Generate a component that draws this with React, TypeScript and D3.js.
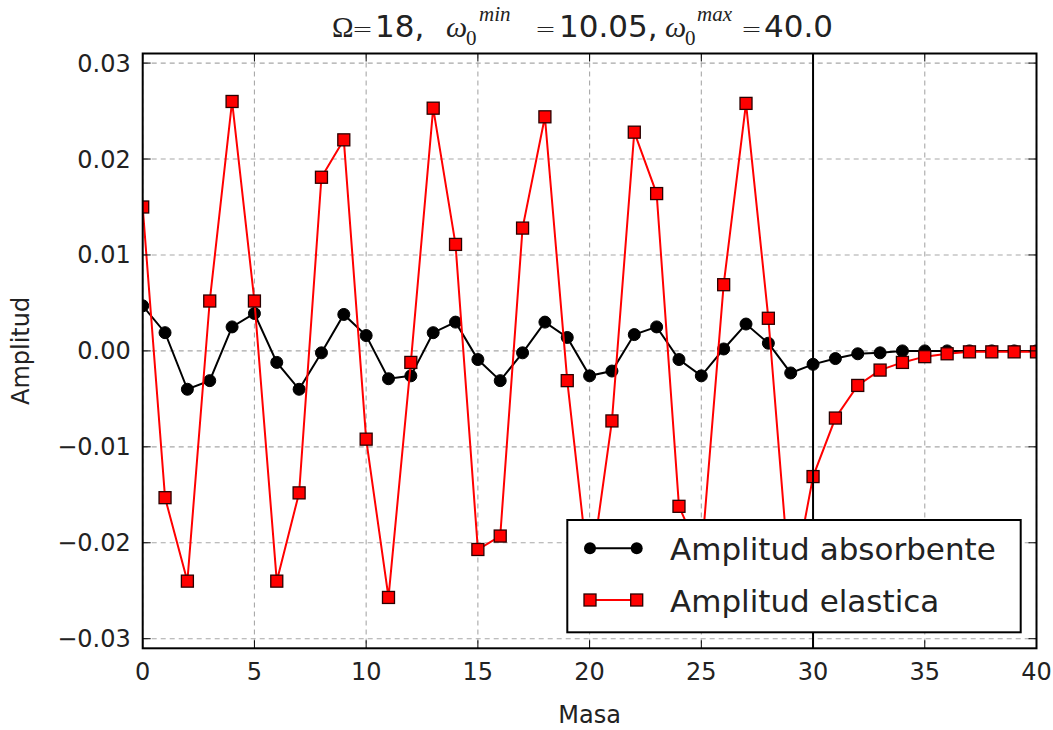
import React from 'react';
import * as d3 from 'd3';

const masas = [0, 1, 2, 3, 4, 5, 6, 7, 8, 9, 10, 11, 12, 13, 14, 15, 16, 17, 18, 19, 20,
  21, 22, 23, 24, 25, 26, 27, 28, 29, 30, 31, 32, 33, 34, 35, 36, 37, 38, 39, 40];

const amplitudAbsorbente = [0.0047, 0.0019, -0.0040, -0.0031, 0.0025, 0.0039, -0.0012, -0.0040,
  -0.0002, 0.0038, 0.0016, -0.0029, -0.0026, 0.0019, 0.0030, -0.0009, -0.0031, -0.0002, 0.0030,
  0.0014, -0.0026, -0.0021, 0.0017, 0.0025, -0.0009, -0.0026, 0.0002, 0.0028, 0.0008, -0.0023,
  -0.0014, -0.0008, -0.0003, -0.0002, 0.0000, 0.0000, 0.0000, 0.0000, 0.0000, 0.0000, 0.0000];

const amplitudElastica = [0.0150, -0.0153, -0.0240, 0.0052, 0.0260, 0.0052, -0.0240, -0.0148,
  0.0181, 0.0220, -0.0092, -0.0257, -0.0012, 0.0253, 0.0111, -0.0207, -0.0193, 0.0128, 0.0244,
  -0.0031, -0.0240, -0.0073, 0.0228, 0.0164, -0.0162, -0.0215, 0.0069, 0.0258, 0.0034, -0.0255,
  -0.0131, -0.0070, -0.0036, -0.0020, -0.0012, -0.0006, -0.0003, -0.0001, -0.0001, -0.0001, -0.0001];

const xTicks = [0, 5, 10, 15, 20, 25, 30, 35, 40];
const xTickLabels = ['0', '5', '10', '15', '20', '25', '30', '35', '40'];
const yTicks = [-0.03, -0.02, -0.01, 0, 0.01, 0.02, 0.03];
const yTickLabels = ['\u22120.03', '\u22120.02', '\u22120.01', '0.00', '0.01', '0.02', '0.03'];
const masaLimite = 30;
const legendLabels = ['Amplitud absorbente', 'Amplitud elastica'];

export default function App() {
  const W = 1053, H = 730;
  const L = 142.7, R = 1036.5, T = 53.5, B = 648.3;
  const x = d3.scaleLinear().domain([0, 40]).range([L, R]);
  const y = d3.scaleLinear().domain([-0.031, 0.031]).range([B, T]);

  const line = d3.line<number>().x((_, i) => x(masas[i])).y((d) => y(d));
  const sans = '"DejaVu Sans", sans-serif';
  const serif = '"Liberation Serif", "DejaVu Serif", serif';
  const tick = 8;
  const ms = 12;
  const tb = 37;

  return (
    <svg width={W} height={H} style={{ position: 'absolute', left: 0, top: 0, background: '#fff' }}>
      <defs>
        <clipPath id="plotclip">
          <rect x={L} y={T} width={R - L} height={B - T} />
        </clipPath>
      </defs>
      <rect x={0} y={0} width={W} height={H} fill="#fff" />
      {/* grid */}
      <g stroke="#a8a8a8" strokeWidth={1.1} strokeDasharray="5,4">
        {xTicks.map((t) => (
          <line key={'gx' + t} x1={x(t)} x2={x(t)} y1={T} y2={B} />
        ))}
        {yTicks.map((t) => (
          <line key={'gy' + t} x1={L} x2={R} y1={y(t)} y2={y(t)} />
        ))}
      </g>
      {/* data */}
      <g clipPath="url(#plotclip)">
        <path d={line(amplitudAbsorbente) || ''} fill="none" stroke="#000" strokeWidth={2} />
        {amplitudAbsorbente.map((v, i) => (
          <circle key={'c' + i} cx={x(masas[i])} cy={y(v)} r={ms / 2} fill="#000" stroke="#000" strokeWidth={1} />
        ))}
        <path d={line(amplitudElastica) || ''} fill="none" stroke="#ff0000" strokeWidth={2} />
        {amplitudElastica.map((v, i) => (
          <rect key={'s' + i} x={x(masas[i]) - ms / 2} y={y(v) - ms / 2} width={ms} height={ms}
            fill="#ff0000" stroke="#2a0000" strokeWidth={1.3} />
        ))}
        <line x1={x(masaLimite)} x2={x(masaLimite)} y1={T} y2={B} stroke="#000" strokeWidth={2} />
      </g>
      {/* ticks */}
      <g stroke="#000" strokeWidth={1}>
        {xTicks.map((t) => (
          <g key={'tx' + t}>
            <line x1={x(t)} x2={x(t)} y1={B} y2={B - tick} />
            <line x1={x(t)} x2={x(t)} y1={T} y2={T + tick} />
          </g>
        ))}
        {yTicks.map((t) => (
          <g key={'ty' + t}>
            <line x1={L} x2={L + tick} y1={y(t)} y2={y(t)} />
            <line x1={R} x2={R - tick} y1={y(t)} y2={y(t)} />
          </g>
        ))}
      </g>
      {/* frame */}
      <rect x={L} y={T} width={R - L} height={B - T} fill="none" stroke="#000" strokeWidth={2} />
      {/* tick labels */}
      <g fontFamily={sans} fontSize={24} fill="#222">
        {xTicks.map((t, i) => (
          <text key={'lx' + t} x={x(t)} y={680} textAnchor="middle">{xTickLabels[i]}</text>
        ))}
        {yTicks.map((t, i) => (
          <text key={'ly' + t} x={L - 12} y={y(t) + 8.5} textAnchor="end">{yTickLabels[i]}</text>
        ))}
      </g>
      {/* axis labels */}
      <text x={(L + R) / 2} y={723} textAnchor="middle" fontFamily={sans} fontSize={24} fill="#222">Masa</text>
      <text transform={`translate(29,${(T + B) / 2}) rotate(-90)`} textAnchor="middle" fontFamily={sans} fontSize={24} fill="#222">Amplitud</text>
      {/* title */}
      <g fill="#222">
        <text x={332} y={tb} fontFamily={serif} fontSize={29}>Ω</text>
        <text x={352} y={tb} fontFamily={sans} fontSize={25} fontWeight={300}>=</text>
        <text x={375} y={tb} fontFamily={sans} fontSize={31}>18,</text>
        <text x={446} y={tb} fontFamily={serif} fontSize={30} fontStyle="italic">ω</text>
        <text x={466} y={45} fontFamily={serif} fontSize={21}>0</text>
        <text x={479} y={21} fontFamily={serif} fontSize={21} fontStyle="italic">min</text>
        <text x={535} y={tb} fontFamily={sans} fontSize={25} fontWeight={300}>=</text>
        <text x={559} y={tb} fontFamily={sans} fontSize={31}>10.05,</text>
        <text x={665} y={tb} fontFamily={serif} fontSize={30} fontStyle="italic">ω</text>
        <text x={685} y={45} fontFamily={serif} fontSize={21}>0</text>
        <text x={697} y={21} fontFamily={serif} fontSize={21} fontStyle="italic">max</text>
        <text x={741} y={tb} fontFamily={sans} fontSize={25} fontWeight={300}>=</text>
        <text x={764} y={tb} fontFamily={sans} fontSize={31}>40.0</text>
      </g>
      {/* legend */}
      <g>
        <rect x={567.3} y={520} width={453.4} height={112.3} fill="#fff" stroke="#000" strokeWidth={2} />
        <line x1={590} x2={636.7} y1={548.3} y2={548.3} stroke="#000" strokeWidth={2} />
        <circle cx={590} cy={548.3} r={ms / 2} fill="#000" />
        <circle cx={636.7} cy={548.3} r={ms / 2} fill="#000" />
        <line x1={590} x2={636.7} y1={600} y2={600} stroke="#ff0000" strokeWidth={2} />
        <rect x={590 - ms / 2} y={600 - ms / 2} width={ms} height={ms} fill="#ff0000" stroke="#2a0000" strokeWidth={1.3} />
        <rect x={636.7 - ms / 2} y={600 - ms / 2} width={ms} height={ms} fill="#ff0000" stroke="#2a0000" strokeWidth={1.3} />
        <text x={670} y={560} fontFamily={sans} fontSize={31} fill="#222">{legendLabels[0]}</text>
        <text x={670} y={611.5} fontFamily={sans} fontSize={31} fill="#222">{legendLabels[1]}</text>
      </g>
    </svg>
  );
}
